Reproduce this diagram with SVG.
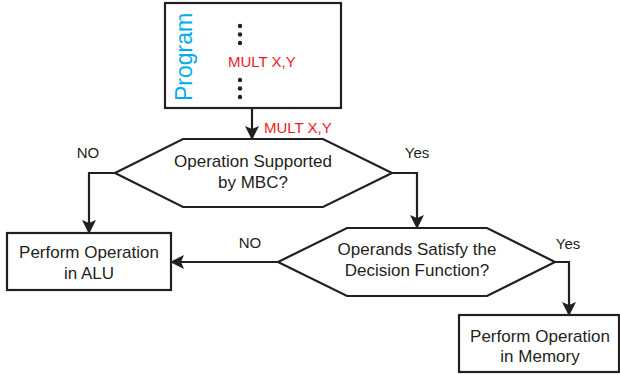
<svg xmlns="http://www.w3.org/2000/svg" width="620" height="375" viewBox="0 0 620 375">
<defs>
<marker id="ah" viewBox="0 0 14 14" refX="13" refY="7" markerWidth="14" markerHeight="14" markerUnits="userSpaceOnUse" orient="auto">
<path d="M0,0 L14,7 L0,14 L3,7 Z" fill="#231f20"/>
</marker>
<style>
.box{fill:#fff;stroke:#231f20;stroke-width:2.2}
.t{font-family:"Liberation Sans",Arial,sans-serif;font-size:17px;fill:#231f20;text-anchor:middle}
.lb{font-family:"Liberation Sans",Arial,sans-serif;font-size:15px;fill:#231f20;text-anchor:middle}
.red{font-family:"Liberation Sans",Arial,sans-serif;font-size:15px;fill:#ed1c24}
.c{fill:none;stroke:#231f20;stroke-width:2.2;marker-end:url(#ah)}
.dot{fill:#231f20}
</style>
</defs>
<rect width="620" height="375" fill="#fff"/>
<g id="program">
<rect class="box" x="165" y="3" width="176" height="105"/>
<text transform="translate(192,57) rotate(-90)" font-family="Liberation Sans, Arial, sans-serif" font-size="23" fill="#00aeef" text-anchor="middle">Program</text>
<circle class="dot" cx="240" cy="26" r="2.2"/>
<circle class="dot" cx="240" cy="34.5" r="2.2"/>
<circle class="dot" cx="240" cy="43" r="2.2"/>
<circle class="dot" cx="240" cy="80" r="2.2"/>
<circle class="dot" cx="240" cy="88.5" r="2.2"/>
<circle class="dot" cx="240" cy="97" r="2.2"/>
<text class="red" x="228" y="67">MULT X,Y</text>
</g>
<g id="decision1">
<polygon class="box" points="115,173 183,139 323,139 392,173 323,207 183,207"/>
<text class="t" x="253" y="167">Operation Supported</text>
<text class="t" x="253" y="188">by MBC?</text>
</g>
<g id="alu">
<rect class="box" x="7" y="233" width="164" height="57"/>
<text class="t" x="89" y="258">Perform Operation</text>
<text class="t" x="89" y="279">in ALU</text>
</g>
<g id="decision2">
<polygon class="box" points="278,262 347,228 487,228 555,262 487,296 347,296"/>
<text class="t" x="417" y="255">Operands Satisfy the</text>
<text class="t" x="417" y="276">Decision Function?</text>
</g>
<g id="memory">
<rect class="box" x="459" y="315" width="160" height="57"/>
<text class="t" x="540" y="342">Perform Operation</text>
<text class="t" x="540" y="362">in Memory</text>
</g>
<g id="connectors">
<path class="c" d="M252,108 L252,139"/>
<path class="c" d="M115,173 L89,173 L89,233"/>
<path class="c" d="M392,173 L417,173 L417,228"/>
<path class="c" d="M278,262 L171,262"/>
<path class="c" d="M555,262 L569,262 L569,315"/>
<text class="red" x="264" y="133">MULT X,Y</text>
<text class="lb" x="88" y="158">NO</text>
<text class="lb" x="417" y="158">Yes</text>
<text class="lb" x="250" y="248">NO</text>
<text class="lb" x="568" y="249">Yes</text>
</g>
</svg>
